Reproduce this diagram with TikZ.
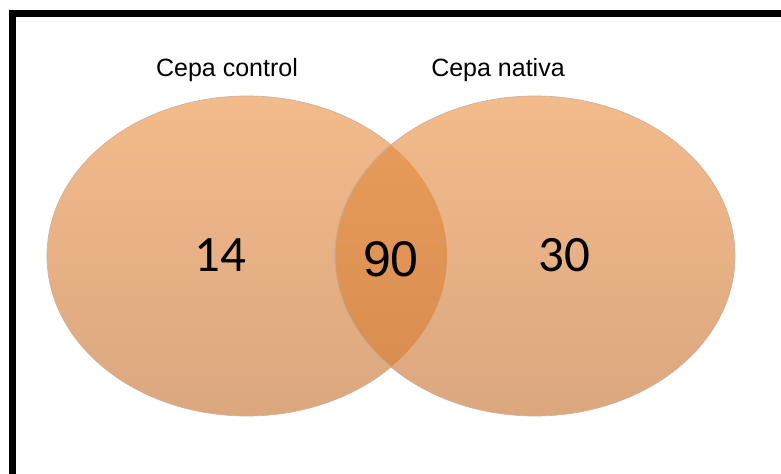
\documentclass[tikz,border=0pt]{standalone}
\usepackage{fontspec}
\setmainfont{Liberation Sans}
\newfontfamily\countfont{Carlito}
\usetikzlibrary{shapes.geometric}

\definecolor{setTop}{RGB}{243,187,139}
\definecolor{setBottom}{RGB}{219,167,127}
\definecolor{setEdge}{RGB}{170,115,75}
\definecolor{lensTop}{RGB}{234,158,92}
\definecolor{lensBottom}{RGB}{214,138,78}

\begin{document}
\begin{tikzpicture}
[x=1bp,y=-1bp,
  setDecorate/.style={shape=ellipse,minimum width=400bp,minimum height=320bp,
    inner sep=0pt,outer sep=0pt,top color=setTop,bottom color=setBottom,
    draw=setEdge!55,line width=0.7bp},%
  lensDecorate/.style={top color=lensTop,bottom color=lensBottom,
    draw=setEdge!60,line width=1bp},%
  titleDecorate/.style={anchor=base,font=\fontsize{25bp}{30bp}\selectfont},%
  countDecorate/.style={anchor=base,font=\fontsize{51bp}{60bp}\countfont}]
\useasboundingbox (0,0) rectangle (781,474);
%% frame
\draw[line width=7bp,line join=miter] (12.5,474) -- (12.5,13.5) -- (781,13.5);
%% the two sets
\node (control) at (247,256) [setDecorate] {};
\node (nativa) at (535,256) [setDecorate] {};
%% overlap
\begin{scope}
  \clip (control.center) ellipse [x radius=200, y radius=160];
  \path[lensDecorate] (nativa.center) ellipse [x radius=200, y radius=160];
\end{scope}
%% set names
\node (controlName) at (227,77) [titleDecorate] {Cepa control};
\node (nativaName) at (498,77) [titleDecorate] {Cepa nativa};
%% counts
\foreach \nodename/\x/\txt in {
  onlyControl/220/14, onlyNativa/564/30}
{
  \node (\nodename) at (\x,272) [countDecorate] {\txt};
}
\node (both) at (391,277) [anchor=base,font=\fontsize{50bp}{60bp}\selectfont] {90};
\end{tikzpicture}
\end{document}
